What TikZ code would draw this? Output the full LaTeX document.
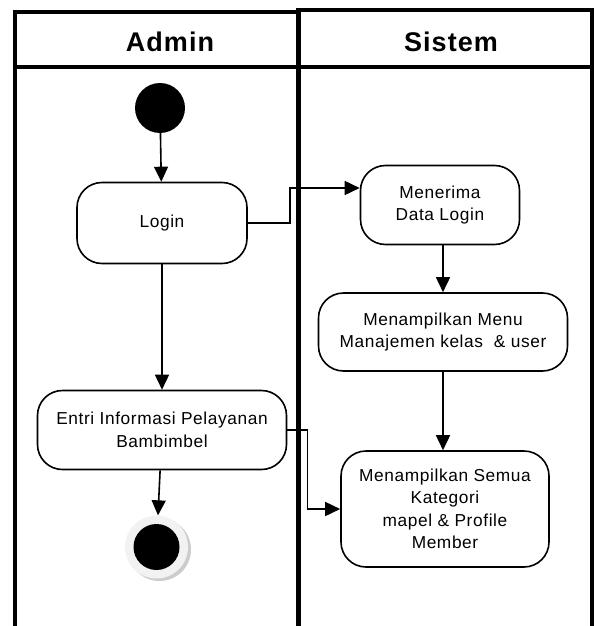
\documentclass[tikz,border=0pt]{standalone}
\usepackage{fontspec}
\setmainfont{Liberation Sans}
\newfontfamily\spacedfont[LetterSpace=3.5]{Liberation Sans}
\newfontfamily\titlefont[LetterSpace=4]{Liberation Sans}
\usetikzlibrary{positioning, arrows.meta, calc}

\tikzset{
    lane/.style={line width=3.5pt},
    act/.style={draw, line width=1.6pt, rounded corners=25pt, inner sep=0pt, align=center,
        font=\spacedfont\fontsize{17.3}{22.5}\selectfont},
    flow/.style={line width=1.6pt, -{Triangle[length=15pt,width=14pt]}},
    lanetitle/.style={font=\titlefont\fontsize{27}{30}\selectfont\bfseries}
}

\begin{document}
\begin{tikzpicture}[x=1pt, y=-1pt]
        \useasboundingbox (0,0) rectangle (596,626);

        %SWIMLANES
        \draw[lane] (15,626) -- (15,12) -- (298,12);
        \draw[lane] (298,10) -- (592,10) -- (592,626);
        \draw[line width=5pt] (298,8) -- (298,626);
        \draw[line width=3pt] (15,67) -- (592,67);
        \node[lanetitle] (admin) at (170,42) {Admin};
        \node[lanetitle] (sistem) at (451,42) {Sistem};

        % ADMIN LANE
        \node[circle, fill, minimum size=50pt, inner sep=0pt] (start) at (160,108) {};
        \node[act, minimum width=170pt, minimum height=81pt] (login) at (162,223) {Login};
        \node[act, minimum width=249pt, minimum height=79pt] (entri) at (162,430)
            {Entri Informasi Pelayanan\\Bambimbel};
        \fill[gray!40] (159.5,549.5) circle (31.5pt);
        \node[circle, fill=gray!10, minimum size=63pt, inner sep=0pt] (endring) at (156.5,547) {};
        \node[circle, fill, minimum size=46pt, inner sep=0pt] (stop) at (156.5,547) {};

        % SISTEM LANE
        \node[act, minimum width=159pt, minimum height=79pt] (terima) at (440,205)
            {Menerima\\Data Login};
        \node[act, minimum width=249pt, minimum height=78pt] (menu) at (443,332)
            {Menampilkan Menu\\Manajemen kelas \ \& user};
        \node[act, minimum width=208pt, minimum height=116pt] (semua) at (445,509)
            {Menampilkan Semua\\Kategori\\mapel \& Profile\\Member};

        % FLOWS
        \draw[flow] (start) -- (login);
        \draw[flow] (login) -- (entri);
        \draw[flow] (entri) -- (endring);
        \draw[flow] (login.east) -- ++(42,0) |- ([yshift=17pt]terima.west);
        \draw[flow] (terima.south -| menu.north) -- (menu);
        \draw[flow] (menu) -- (semua.north -| menu.south);
        \draw[flow] (entri.east) -- ++(20,0) |- (semua.west);

    \end{tikzpicture}
\end{document}
